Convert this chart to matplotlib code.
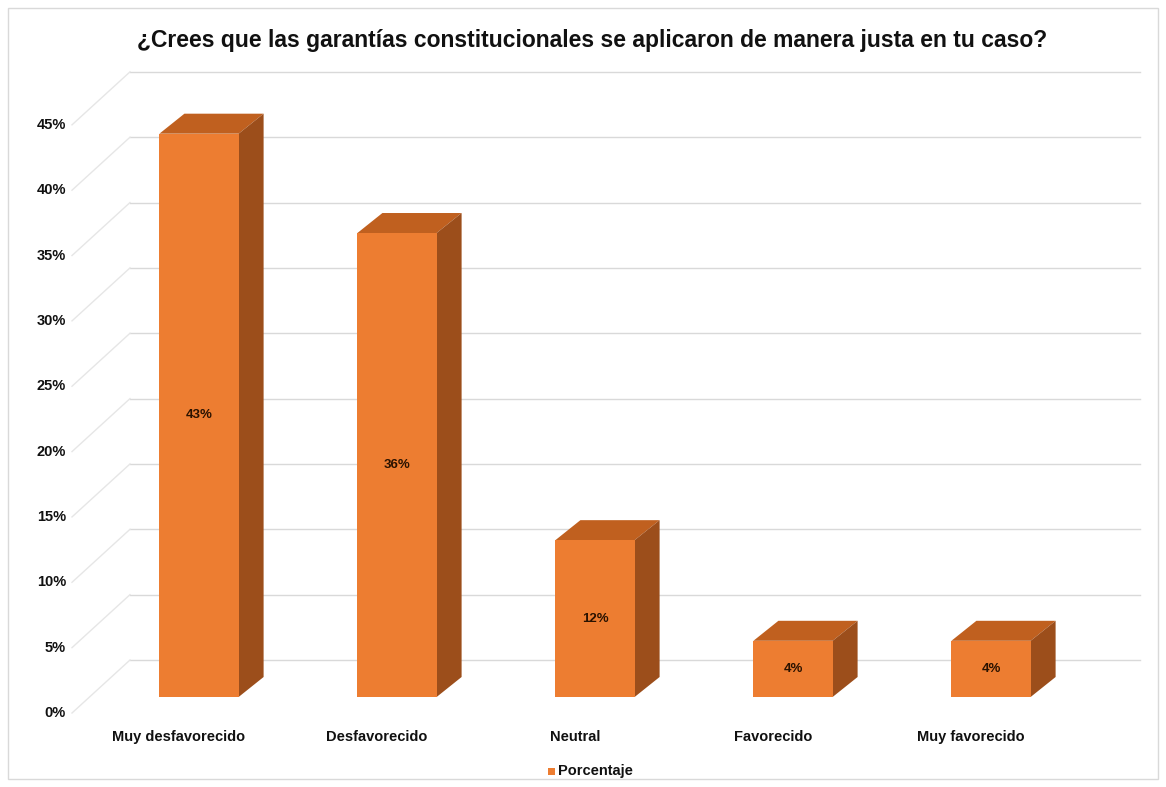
import matplotlib
matplotlib.use("Agg")
import matplotlib.pyplot as plt
from matplotlib.patches import Polygon, Rectangle

categories = ["Muy desfavorecido", "Desfavorecido", "Neutral", "Favorecido", "Muy favorecido"]
values = [43.1, 35.5, 12.0, 4.3, 4.3]
value_labels = ["43%", "36%", "12%", "4%", "4%"]
ticks = [0, 5, 10, 15, 20, 25, 30, 35, 40, 45]
tick_labels = [f"{t}%" for t in ticks]
title = "¿Crees que las garantías constitucionales se aplicaron de manera justa en tu caso?"
legend_label = "Porcentaje"

FRONT = "#ED7D31"
TOP = "#C0601F"
SIDE = "#9C4E1B"
GRID = "#D9D9D9"
TXT = "#111111"

W, H = 1166, 787
fig = plt.figure(figsize=(W / 100, H / 100), dpi=100)
ax = fig.add_axes([0, 0, 1, 1])
ax.set_axis_off()

# pixel geometry -> data scales
x0_px, step_px = 199.0, 198.0       # first bar centre, spacing
y0_px, unit_px = 697.0, 13.07       # bar base, pixels per 1%
ax.set_xlim(-x0_px / step_px, (W - x0_px) / step_px)
ax.set_ylim((y0_px - H) / unit_px, y0_px / unit_px)

def dx(px):
    return px / step_px

def dy(px):
    return px / unit_px

bar_w = 0.40
depth_x, depth_y = dx(25), dy(20)
back_x, back_y = dx(-69), dy(37)      # back wall left edge and 0% level (relative)
front_x, front_y = dx(-127), dy(-16)  # front plane for axis labels
grid_end = dx(1140 - x0_px)

# border
fig.patches.append(Rectangle((8, 8), W - 16, H - 16, transform=None, fill=False,
                             edgecolor="#D9D9D9", linewidth=1.0))

# back wall gridlines and diagonal lines from axis labels
for t, tl in zip(ticks, tick_labels):
    ax.plot([back_x, grid_end], [t + back_y, t + back_y], color=GRID, lw=1.0, zorder=1)
    ax.plot([front_x, back_x], [t + front_y, t + back_y], color="#E6E6E6", lw=1.0, zorder=1)
    ax.text(front_x - dx(6), t + front_y, tl, ha="right", va="center",
            fontsize=10.5, fontweight="bold", color=TXT, family="Liberation Sans")

xs = list(range(len(categories)))
ax.bar(xs, values, width=bar_w, color=FRONT, zorder=4, label=legend_label)
for x, v, lab in zip(xs, values, value_labels):
    l, r = x - bar_w / 2, x + bar_w / 2
    top = Polygon([(l, v), (r, v), (r + depth_x, v + depth_y), (l + depth_x, v + depth_y)],
                  closed=True, facecolor=TOP, edgecolor="none", zorder=3)
    side = Polygon([(r, 0), (r + depth_x, depth_y), (r + depth_x, v + depth_y), (r, v)],
                   closed=True, facecolor=SIDE, edgecolor="none", zorder=3)
    ax.add_patch(top)
    ax.add_patch(side)
    ax.text(x, v / 2, lab, ha="center", va="center", fontsize=9.5, fontweight="bold",
            color="#2a1200", family="Liberation Sans", zorder=6)

for x, c in zip(xs, categories):
    ax.text(x + dx(-20), dy(-40), c, ha="center", va="center", fontsize=10.5,
            fontweight="bold", color=TXT, family="Liberation Sans")

fig.text(592 / W, 1 - 41 / H, title, ha="center", va="center", fontsize=16.5,
         fontweight="bold", color=TXT, family="Liberation Sans")

# legend
fig.patches.append(Rectangle((548, H - 775), 7, 7, transform=None, facecolor=FRONT,
                             edgecolor="none"))
fig.text(558 / W, 1 - 771 / H, legend_label, ha="left", va="center", fontsize=10.5,
         fontweight="bold", color=TXT, family="Liberation Sans")

fig.savefig("out.png", dpi=100)
